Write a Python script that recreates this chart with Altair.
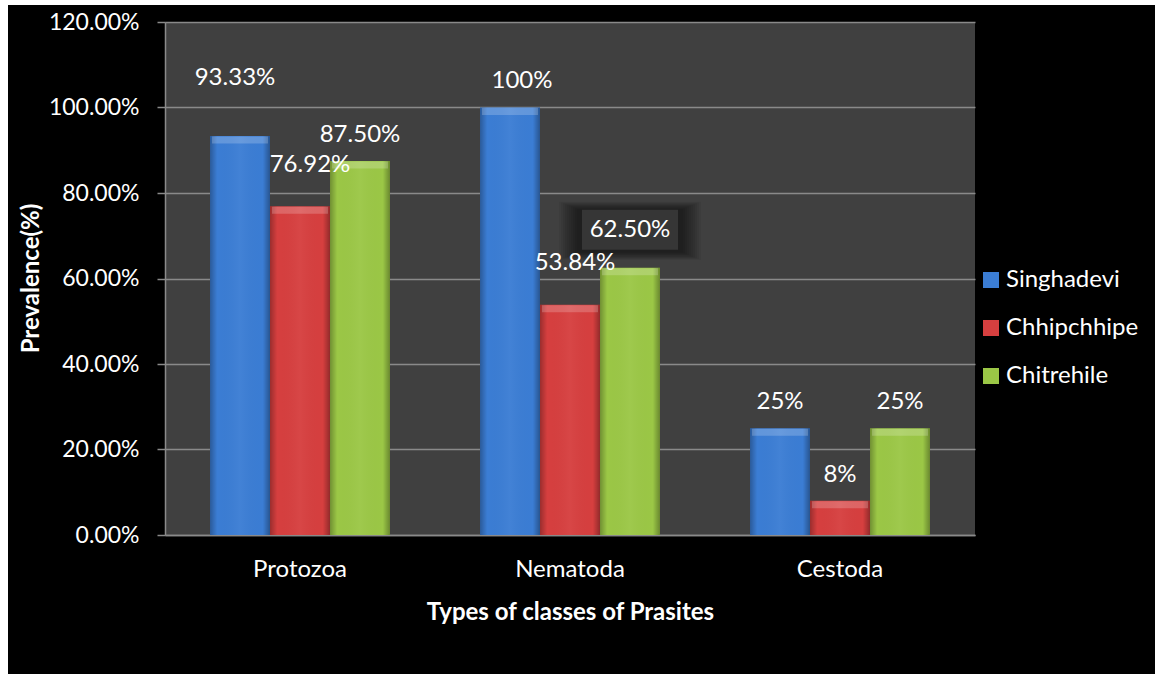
import altair as alt
import pandas as pd

# Prevalence (%) of parasite classes at three sites
categories = ["Protozoa", "Nematoda", "Cestoda"]
sites = ["Singhadevi", "Chhipchhipe", "Chitrehile"]
singhadevi = [93.33, 100, 25]
chhipchhipe = [76.92, 53.84, 8]
chitrehile = [87.50, 62.50, 25]
label_singhadevi = ["93.33%", "100%", "25%"]
label_chhipchhipe = ["76.92%", "53.84%", "8%"]
label_chitrehile = ["87.50%", "62.50%", "25%"]
y_ticks = [0, 20, 40, 60, 80, 100, 120]

site_colors = ["#3b7dd4", "#d63f3f", "#9bc746"]

# Label placement relative to each bar's top centre (pixels)
label_shift = {
    "Singhadevi": [(-5, -58), (12, -27), (0, -26)],
    "Chhipchhipe": [(10, -41), (5, -42), (0, -26)],
    "Chitrehile": [(0, -26), (0, -38), (0, -26)],
}

values = {"Singhadevi": singhadevi, "Chhipchhipe": chhipchhipe, "Chitrehile": chitrehile}
labels = {"Singhadevi": label_singhadevi, "Chhipchhipe": label_chhipchhipe, "Chitrehile": label_chitrehile}

rows = []
for s in sites:
    for i, c in enumerate(categories):
        rows.append({"category": c, "site": s, "value": values[s][i] / 100, "label": labels[s][i]})
df = pd.DataFrame(rows)

FONT = "Lato"
W, H = 810, 513
PAD = {"left": 165, "top": 22, "right": 181, "bottom": 139}

x_enc = alt.X("category:N", sort=categories, scale=alt.Scale(paddingInner=1 / 3, paddingOuter=1 / 6),
              axis=alt.Axis(title="Types of classes of Prasites", labelColor="white", labelFont=FONT,
                            labelFontSize=24, labelAngle=0, labelPadding=22, ticks=False,
                            domainColor="#8a8a8a", domainWidth=1.5, titleColor="white", titleFont=FONT,
                            titleFontSize=24, titleFontWeight="bold", titleY=77, titleBaseline="middle"))
xo_enc = alt.XOffset("site:N", sort=sites)
y_enc = alt.Y("value:Q", scale=alt.Scale(domain=[0, 1.2], nice=False),
              axis=alt.Axis(values=[t / 100 for t in y_ticks], format=".2%", title="Prevalence(%)",
                            labelColor="white", labelFont=FONT, labelFontSize=23, labelPadding=18,
                            tickColor="#8a8a8a", tickSize=8, tickWidth=1.5, domainColor="#8a8a8a",
                            domainWidth=1.5, gridColor="#8a8a8a", gridWidth=1.5, titleColor="white",
                            titleFont=FONT, titleFontSize=24, titleFontWeight="bold", titleX=-134,
                            titleY=256, titleAngle=270, titleAlign="center", titleBaseline="middle"))

base = alt.Chart(df)

bars = base.mark_bar().encode(
    x=x_enc, xOffset=xo_enc, y=y_enc,
    color=alt.Color("site:N", sort=sites, scale=alt.Scale(domain=sites, range=site_colors),
                    legend=alt.Legend(title=None, orient="none", legendX=814, legendY=246,
                                      symbolType="square", symbolSize=256, symbolStrokeWidth=0,
                                      labelColor="white", labelFont=FONT, labelFontSize=24,
                                      rowPadding=24, labelOffset=3)),
)

# Side shading for a rounded look
shade = base.mark_bar(fill=alt.Gradient(
    gradient="linear", x1=0, x2=1, y1=0, y2=0,
    stops=[alt.GradientStop(color="rgba(0,0,0,0.28)", offset=0),
           alt.GradientStop(color="rgba(0,0,0,0.0)", offset=0.12),
           alt.GradientStop(color="rgba(255,255,255,0.04)", offset=0.5),
           alt.GradientStop(color="rgba(0,0,0,0.0)", offset=0.88),
           alt.GradientStop(color="rgba(0,0,0,0.32)", offset=1)])).encode(
    x=alt.X("category:N", sort=categories), xOffset=xo_enc, y="value:Q")

# Light bevel along each bar's top edge
bevel = base.mark_tick(size=56, thickness=7, yOffset=4, color="white", opacity=0.2).encode(
    x=alt.X("category:N", sort=categories), xOffset=xo_enc, y="value:Q")

layers = [bars, shade, bevel]

# Soft shadowed box behind the 62.50% label
bx, by = label_shift["Chitrehile"][1]
box_src = base.transform_filter(
    (alt.datum.site == "Chitrehile") & (alt.datum.category == "Nematoda"))
for k in range(10):
    w = 142 - 4 * k
    layers.append(box_src.mark_point(shape="M-1,-0.41L1,-0.41L1,0.41L-1,0.41Z", size=w * w, filled=True,
                                     fill="black", opacity=0.06, strokeWidth=0, xOffset=bx + 1, yOffset=by + 1)
                  .encode(x=alt.X("category:N", sort=categories), xOffset=xo_enc, y="value:Q"))
layers.append(box_src.mark_point(shape="M-1,-0.4167L1,-0.4167L1,0.4167L-1,0.4167Z", size=96 * 96,
                                 filled=True, fill="#363636", opacity=1, strokeWidth=0, xOffset=bx, yOffset=by)
              .encode(x=alt.X("category:N", sort=categories), xOffset=xo_enc, y="value:Q"))

# Value labels
for s in sites:
    for i, c in enumerate(categories):
        dx, dy = label_shift[s][i]
        layers.append(
            base.transform_filter((alt.datum.site == s) & (alt.datum.category == c))
            .mark_text(color="white", font=FONT, fontSize=24, baseline="middle", align="center", dx=dx, dy=dy)
            .encode(x=alt.X("category:N", sort=categories), xOffset=xo_enc, y="value:Q", text="label:N")
        )

# White edge strips framing the figure
frame = alt.Data(values=[{}])
for x0, x1, y0, y1 in [(-165, 991, -22, -17), (-165, -157, -22, 652), (990, 991, -22, 652)]:
    layers.append(alt.Chart(frame).mark_rect(color="white").encode(
        x=alt.value(x0), x2=alt.value(x1), y=alt.value(y0), y2=alt.value(y1)))

chart = alt.layer(*layers).properties(
    width=W, height=H, background="black", padding=PAD,
    autosize=alt.AutoSizeParams(type="none"),
).configure_view(fill="#404040", stroke=None)

chart.save("out.html", embed_options={"renderer": "svg", "actions": False})
